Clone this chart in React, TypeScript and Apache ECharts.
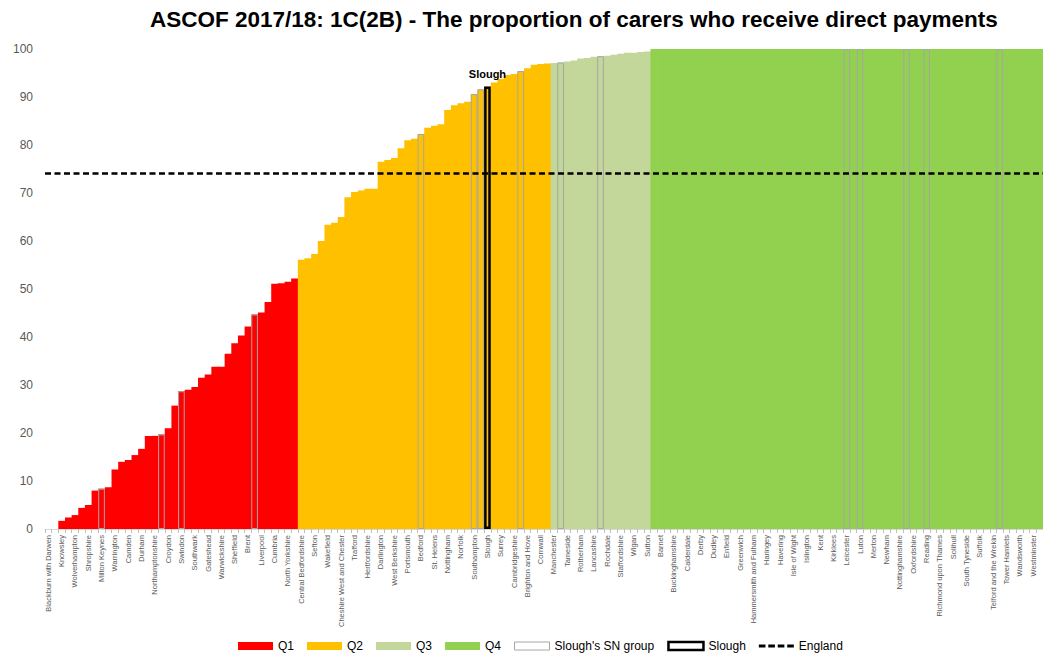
import React, { useEffect, useRef } from "react";
import * as echarts from "echarts";

const chartTitle = "ASCOF 2017/18: 1C(2B) - The proportion of carers who receive direct payments";

const categories: string[] = [
  "Blackburn with Darwen", "Halton", "Knowsley", "Walsall", "Wolverhampton", "Stoke-on-Trent", "Shropshire", "Lincolnshire",
  "Milton Keynes", "Kingston upon Hull", "Warrington", "Doncaster", "Camden", "Hartlepool", "Durham", "Birmingham",
  "Northamptonshire", "Coventry", "Croydon", "Leeds", "Swindon", "Bournemouth", "Southwark", "Sandwell",
  "Gateshead", "Worcestershire", "Warwickshire", "Bradford", "Sheffield", "Dorset", "Brent", "Hillingdon",
  "Liverpool", "Middlesbrough", "Cumbria", "Bolton", "North Yorkshire", "Torbay", "Central Bedfordshire", "East Sussex",
  "Sefton", "Redcar and Cleveland", "Wakefield", "Barnsley", "Cheshire West and Chester", "Somerset", "Trafford", "Poole",
  "Hertfordshire", "Wiltshire", "Darlington", "North Somerset", "West Berkshire", "Leicestershire", "Portsmouth", "Blackpool",
  "Bedford", "Gloucestershire", "St. Helens", "Northumberland", "Nottingham", "Southend-on-Sea", "Norfolk", "Bath and North East Somerset",
  "Southampton", "Peterborough", "Slough", "York", "Surrey", "Derbyshire", "Cambridgeshire", "Hounslow",
  "Brighton and Hove", "Stockton-on-Tees", "Cornwall", "East Riding of Yorkshire", "Manchester", "Bracknell Forest", "Tameside", "North East Lincolnshire",
  "Rotherham", "Windsor and Maidenhead", "Lancashire", "Bristol", "Rochdale", "North Lincolnshire", "Staffordshire", "Wokingham",
  "Wigan", "Bexley", "Sutton", "Barking and Dagenham", "Barnet", "Bromley", "Buckinghamshire", "Bury",
  "Calderdale", "Cheshire East", "Derby", "Devon", "Dudley", "Ealing", "Enfield", "Essex",
  "Greenwich", "Hackney", "Hammersmith and Fulham", "Hampshire", "Haringey", "Harrow", "Havering", "Herefordshire",
  "Isle of Wight", "Isles of Scilly", "Islington", "Kensington and Chelsea", "Kent", "Kingston upon Thames", "Kirklees", "Lambeth",
  "Leicester", "Lewisham", "Luton", "Medway", "Merton", "Newcastle upon Tyne", "Newham", "North Tyneside",
  "Nottinghamshire", "Oldham", "Oxfordshire", "Plymouth", "Reading", "Redbridge", "Richmond upon Thames", "Salford",
  "Solihull", "South Gloucestershire", "South Tyneside", "Stockport", "Suffolk", "Sunderland", "Telford and the Wrekin", "Thurrock",
  "Tower Hamlets", "Waltham Forest", "Wandsworth", "West Sussex", "Westminster", "Wirral",
];

const values: number[] = [
  0, 0, 1.7, 2.4, 2.9, 4.4, 5.0, 8.0,
  8.4, 8.7, 12.4, 14.0, 14.4, 15.4, 16.7, 19.4,
  19.4, 19.7, 21.0, 25.7, 28.7, 29.0, 29.6, 31.5,
  32.2, 33.8, 33.8, 36.5, 38.7, 40.3, 42.2, 44.7,
  45.1, 47.3, 51.1, 51.2, 51.5, 52.2, 56.1, 56.4,
  57.3, 60.0, 63.4, 63.8, 65.0, 69.1, 70.2, 70.5,
  70.9, 70.9, 76.5, 76.9, 77.3, 79.3, 81.0, 81.3,
  82.3, 83.6, 84.0, 84.3, 87.3, 88.3, 88.7, 89.0,
  90.6, 91.6, 92.2, 93.0, 93.8, 94.6, 94.8, 95.4,
  96.0, 96.7, 96.9, 97.0, 97.1, 97.2, 97.4, 97.6,
  98.0, 98.1, 98.4, 98.5, 98.6, 98.8, 99.0, 99.2,
  99.2, 99.4, 99.5, 100, 100, 100, 100, 100,
  100, 100, 100, 100, 100, 100, 100, 100,
  100, 100, 100, 100, 100, 100, 100, 100,
  100, 100, 100, 100, 100, 100, 100, 100,
  100, 100, 100, 100, 100, 100, 100, 100,
  100, 100, 100, 100, 100, 100, 100, 100,
  100, 100, 100, 100, 100, 100, 100, 100,
  100, 100, 100, 100, 100, 100,
];

const quartileNames: string[] = ["Q1", "Q2", "Q3", "Q4"];
const quartileCounts: number[] = [38, 38, 15, 59];

const snGroup: string[] = [
  "Milton Keynes", "Coventry", "Swindon", "Hillingdon", "Bedford", "Southampton", "Peterborough", "Hounslow",
  "Bracknell Forest", "Bristol", "Leicester", "Luton", "Oldham", "Reading", "Thurrock",
];
const highlighted = "Slough";
const snName = "Slough's SN group";
const englandName = "England";
const englandValue = 74.1;

const yTicks = { min: 0, max: 100, interval: 10 };

const quartileColors = ["#FF0000", "#FFC000", "#C4D79B", "#92D050"];
const FONT = "Liberation Sans";

export default function App() {
  const ref = useRef<HTMLDivElement>(null);

  useEffect(() => {
    if (!ref.current) return;
    const chart = echarts.init(ref.current, undefined, { renderer: "svg" });

    const quartileOf: number[] = [];
    quartileCounts.forEach((c, q) => {
      for (let k = 0; k < c; k++) quartileOf.push(q);
    });

    const quartileSeries = quartileNames.map((name, q) => ({
      name,
      type: "bar",
      barGap: "-100%",
      barWidth: "112%",
      data: values.map((v, i) => (quartileOf[i] === q ? v : "-")),
      itemStyle: { color: quartileColors[q] },
      emphasis: { disabled: true },
    }));

    const option: any = {
      animation: false,
      title: {
        text: chartTitle,
        left: 145,
        top: 3,
        textStyle: { fontFamily: FONT, fontSize: 22.5, fontWeight: "bold", color: "#000" },
      },
      grid: { left: 45, right: 0, top: 49, bottom: 124, containLabel: false },
      legend: {
        left: 233,
        top: 635,
        itemWidth: 35,
        itemHeight: 8,
        itemGap: 13,
        textStyle: { fontFamily: FONT, fontSize: 12, color: "#000" },
        data: [
          ...quartileNames.map((n, q) => ({ name: n, icon: "rect", itemStyle: { color: quartileColors[q], borderWidth: 0 } })),
          { name: snName, icon: "rect", itemStyle: { color: "#FFFFFF", borderColor: "#A6A6A6", borderWidth: 1 } },
          { name: highlighted, icon: "rect", itemStyle: { color: "#FFFFFF", borderColor: "#000000", borderWidth: 2.5 } },
          {
            name: englandName,
            icon: "path://M0,0h7v3h-7z M10,0h7v3h-7z M20,0h7v3h-7z M30,0h7v3h-7z",
            itemStyle: { color: "#000" },
          },
        ],
      },
      xAxis: {
        type: "category",
        data: categories,
        axisLine: { lineStyle: { color: "#D9D9D9" } },
        axisTick: { show: true, interval: 0, length: 4, lineStyle: { color: "#BFBFBF" } },
        axisLabel: { interval: 1, rotate: 90, fontSize: 7.5, color: "#595959", fontFamily: FONT, margin: 6 },
      },
      yAxis: {
        type: "value",
        min: yTicks.min,
        max: yTicks.max,
        interval: yTicks.interval,
        axisLine: { show: false },
        axisTick: { show: false },
        splitLine: { show: false },
        axisLabel: { fontSize: 12, color: "#595959", fontFamily: FONT, margin: 12 },
      },
      series: [
        ...quartileSeries,
        {
          name: snName,
          type: "bar",
          barGap: "-100%",
          barWidth: "100%",
          z: 4,
          data: values.map((v, i) => (snGroup.includes(categories[i]) ? v : "-")),
          itemStyle: { color: "rgba(255,255,255,0)", borderColor: "#A6A6A6", borderWidth: 1 },
          emphasis: { disabled: true },
        },
        {
          name: highlighted,
          type: "bar",
          barGap: "-100%",
          barWidth: "100%",
          z: 5,
          data: values.map((v, i) => (categories[i] === highlighted ? v : "-")),
          itemStyle: { color: "rgba(255,255,255,0)", borderColor: "#000000", borderWidth: 2.5 },
          label: {
            show: true,
            position: "top",
            distance: 7,
            formatter: highlighted,
            fontFamily: FONT,
            fontSize: 11,
            fontWeight: "bold",
            color: "#000",
          },
          emphasis: { disabled: true },
        },
        {
          name: englandName,
          type: "line",
          data: [],
          z: 6,
          lineStyle: { color: "#000", type: [6, 3.5], width: 2.5 },
          itemStyle: { color: "#000" },
          markLine: {
            silent: true,
            symbol: "none",
            label: { show: false },
            lineStyle: { color: "#000", type: [6, 3.5], width: 2.5 },
            data: [{ yAxis: englandValue }],
          },
        },
      ],
    };

    chart.setOption(option);
    return () => chart.dispose();
  }, []);

  return (
    <div
      ref={ref}
      style={{ position: "fixed", left: 0, top: 0, width: 1043, height: 653, background: "#fff" }}
    />
  );
}
